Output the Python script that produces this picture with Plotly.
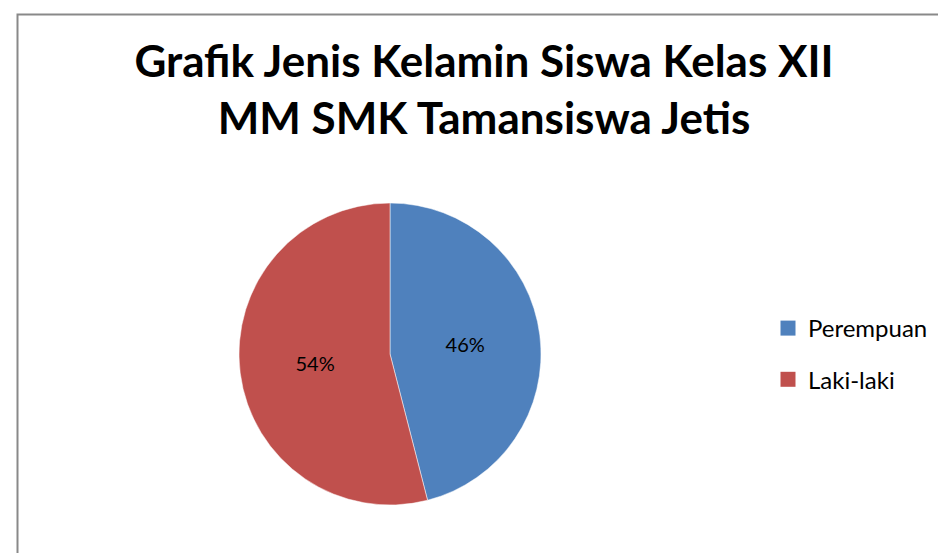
import plotly.graph_objects as go

labels = ["Perempuan", "Laki-laki"]
values = [46, 54]
colors = ["#4F81BD", "#C0504D"]
title_lines = ["Grafik Jenis Kelamin Siswa Kelas XII", "MM SMK Tamansiswa Jetis"]

W, H = 946, 553
FONT = "Lato, 'Open Sans', sans-serif"

fig = go.Figure()
fig.add_trace(go.Pie(
    labels=labels, values=values, sort=False, direction="clockwise", rotation=0,
    marker=dict(colors=colors, line=dict(color="white", width=0.5)),
    textinfo="percent", textposition="inside", insidetextorientation="horizontal",
    textfont=dict(color="black", size=20, family=FONT),
    domain=dict(x=[231 / W, 533 / W], y=[56 / H, 358 / H]),
    showlegend=False, hoverinfo="label+percent",
))
for i, (lab, col) in enumerate(zip(labels, colors)):
    fig.add_trace(go.Scatter(
        x=[None], y=[None], mode="markers", name=lab, legendgroup=lab,
        marker=dict(symbol="square", size=15, color=col),
        showlegend=True, hoverinfo="skip",
    ))

fig.update_layout(
    width=W, height=H,
    margin=dict(l=0, r=0, t=0, b=0),
    paper_bgcolor="white", plot_bgcolor="white",
    xaxis=dict(visible=False), yaxis=dict(visible=False),
    title=dict(
        text="<b>" + "<br>".join(title_lines) + "</b>",
        x=476 / W, xanchor="center", yref="container", y=1 - 69 / H, yanchor="middle",
        font=dict(family=FONT, size=44, color="black"),
    ),
    legend=dict(
        x=760 / W, xanchor="left", y=1 - 298 / H, yanchor="top",
        font=dict(family=FONT, size=24, color="black"),
        tracegroupgap=17, bgcolor="rgba(0,0,0,0)",
    ),
    shapes=[dict(
        type="rect", xref="paper", yref="paper",
        x0=9.5 / W, x1=1.02, y0=-0.02, y1=1 - 6.5 / H,
        line=dict(color="#898989", width=2), fillcolor="rgba(0,0,0,0)", layer="below",
    )],
)
fig.write_html("out.html")
